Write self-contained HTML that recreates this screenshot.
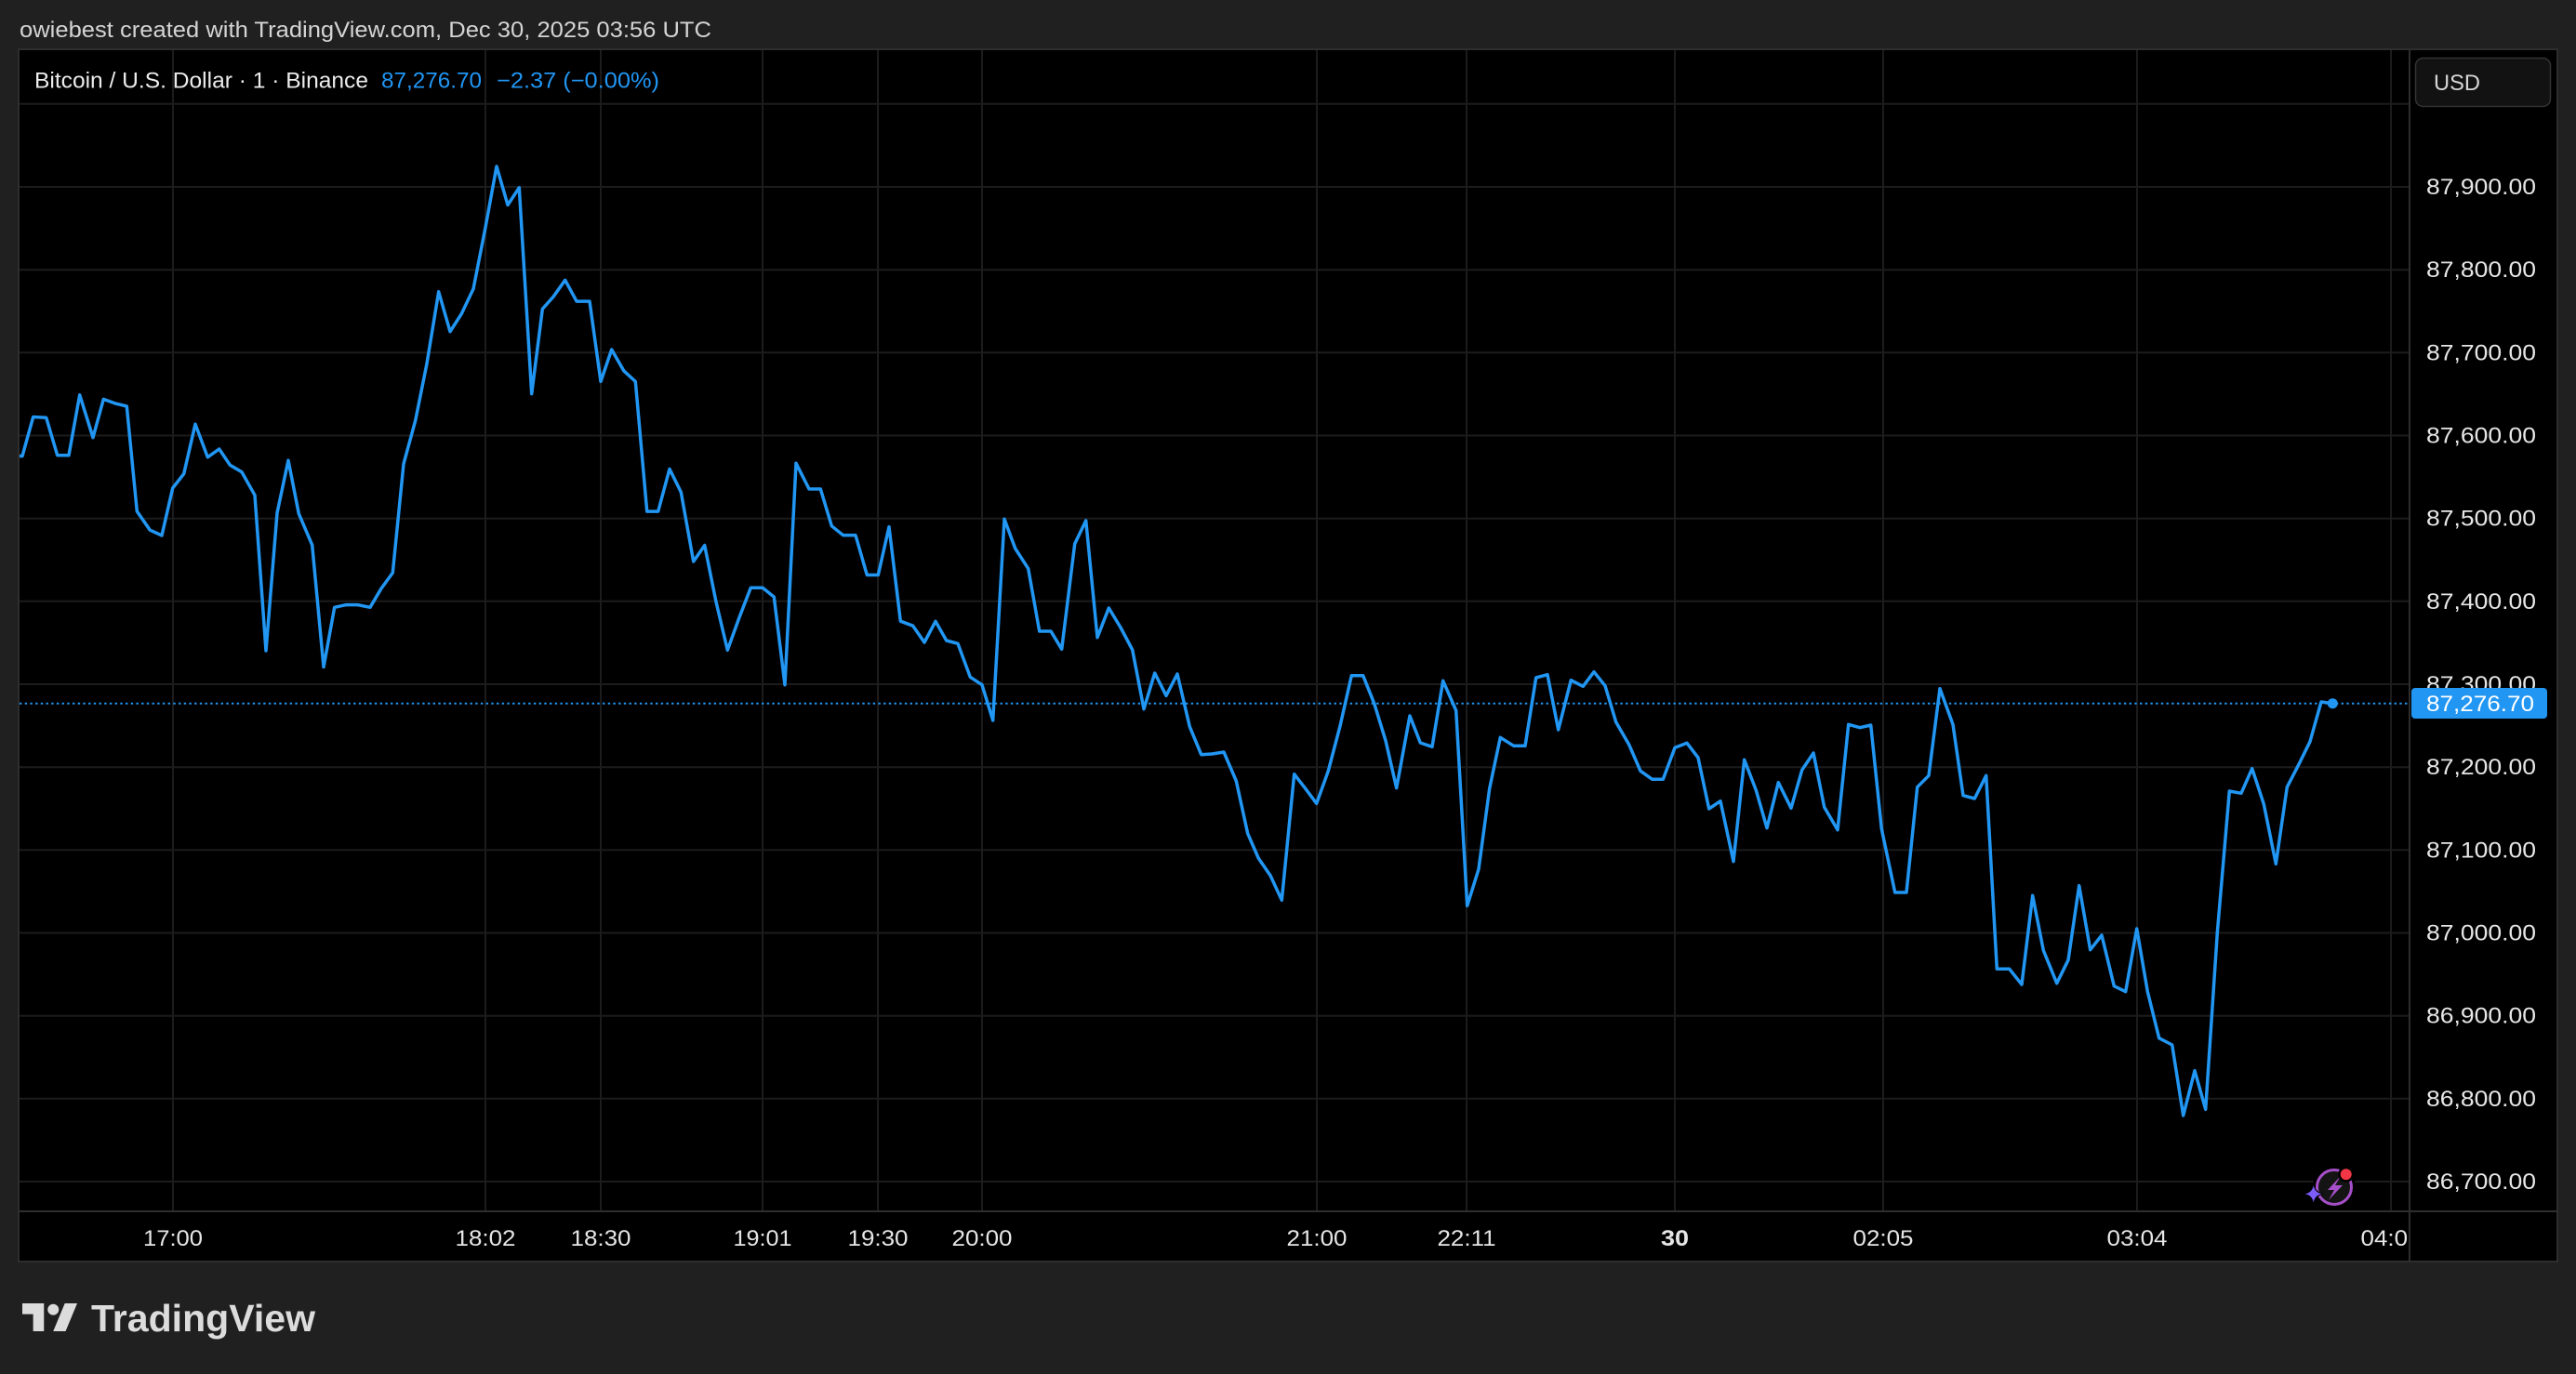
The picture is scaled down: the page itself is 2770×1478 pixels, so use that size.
<!DOCTYPE html>
<html>
<head>
<meta charset="utf-8">
<style>
  html, body { margin: 0; padding: 0; background: #202020; }
  body { width: 2770px; height: 1478px; overflow: hidden; }
  svg { display: block; }
  text { font-family: "Liberation Sans", sans-serif; }
</style>
</head>
<body>
<svg width="2770" height="1478" viewBox="0 0 2770 1478" xmlns="http://www.w3.org/2000/svg">
  <defs>
    <clipPath id="pane"><rect x="21" y="54" width="2569" height="1248"/></clipPath>
    <clipPath id="taxis"><rect x="21" y="1304" width="2569" height="52"/></clipPath>
  </defs>
  <rect x="0" y="0" width="2770" height="1478" fill="#202020"/>

  <!-- header -->
  <text x="21" y="40" font-size="24" fill="#d4d4d4" textLength="744" lengthAdjust="spacingAndGlyphs">owiebest created with TradingView.com, Dec 30, 2025 03:56 UTC</text>

  <!-- pane -->
  <rect x="20" y="53" width="2730" height="1304" fill="#000" stroke="#2e2e2e" stroke-width="2"/>

  <!-- horizontal grid -->
  <g stroke="#1c1c1c" stroke-width="2">
    <line x1="21" x2="2590" y1="111.8" y2="111.8"/>
    <line x1="21" x2="2590" y1="201" y2="201"/>
    <line x1="21" x2="2590" y1="290.2" y2="290.2"/>
    <line x1="21" x2="2590" y1="379.3" y2="379.3"/>
    <line x1="21" x2="2590" y1="468.5" y2="468.5"/>
    <line x1="21" x2="2590" y1="557.7" y2="557.7"/>
    <line x1="21" x2="2590" y1="646.8" y2="646.8"/>
    <line x1="21" x2="2590" y1="736" y2="736"/>
    <line x1="21" x2="2590" y1="825.2" y2="825.2"/>
    <line x1="21" x2="2590" y1="914.4" y2="914.4"/>
    <line x1="21" x2="2590" y1="1003.5" y2="1003.5"/>
    <line x1="21" x2="2590" y1="1092.7" y2="1092.7"/>
    <line x1="21" x2="2590" y1="1181.8" y2="1181.8"/>
    <line x1="21" x2="2590" y1="1271" y2="1271"/>
  </g>
  <!-- vertical grid -->
  <g stroke="#1c1c1c" stroke-width="2">
    <line x1="186" x2="186" y1="54" y2="1303"/>
    <line x1="522" x2="522" y1="54" y2="1303"/>
    <line x1="646" x2="646" y1="54" y2="1303"/>
    <line x1="820" x2="820" y1="54" y2="1303"/>
    <line x1="944" x2="944" y1="54" y2="1303"/>
    <line x1="1056" x2="1056" y1="54" y2="1303"/>
    <line x1="1416" x2="1416" y1="54" y2="1303"/>
    <line x1="1577" x2="1577" y1="54" y2="1303"/>
    <line x1="1801" x2="1801" y1="54" y2="1303"/>
    <line x1="2025" x2="2025" y1="54" y2="1303"/>
    <line x1="2298" x2="2298" y1="54" y2="1303"/>
    <line x1="2571" x2="2571" y1="54" y2="1303"/>
  </g>

  <!-- axis separators -->
  <line x1="2591" x2="2591" y1="54" y2="1356" stroke="#2e2e2e" stroke-width="2"/>
  <line x1="21" x2="2749" y1="1303" y2="1303" stroke="#2e2e2e" stroke-width="2"/>

  <!-- legend -->
  <text x="37" y="94.5" font-size="24" fill="#ececec" textLength="359" lengthAdjust="spacingAndGlyphs">Bitcoin / U.S. Dollar · 1 · Binance</text>
  <text x="410" y="94.5" font-size="24" fill="#2196f3" textLength="108" lengthAdjust="spacingAndGlyphs">87,276.70</text>
  <text x="534" y="94.5" font-size="24" fill="#2196f3" textLength="175" lengthAdjust="spacingAndGlyphs">−2.37 (−0.00%)</text>

  <!-- price line (dotted) -->
  <line x1="21" x2="2590" y1="756.7" y2="756.7" stroke="#2196f3" stroke-width="2" stroke-dasharray="2.4 3.3"/>

  <!-- series -->
  <g clip-path="url(#pane)">
  <polyline fill="none" stroke="#2196f3" stroke-width="3.5" stroke-linejoin="round" stroke-linecap="round" points="
21.3,490.6 24,490.6 35.7,448.5 49.7,449.3 61.7,489.8 74,489.8 85.7,424.8 100,470.7 111.3,429.4 124,434 136.3,437 147.3,550 161.3,570.2 174,576 185.7,525 197.7,509.7 210,456.2 223.3,491.8 235.7,483 247.3,500.2 260,507.8 274,532.7 286,700 298,551.8 310,495.2 321.3,552.6 335.7,586.3 348,717.5 359.7,653.3 372.3,650.6 384.7,650.6 398,653.3 410,633 422.3,616.1 434,499 446.7,452.3 459,391.1 471.7,313.8 484,356.7 496.3,337.5 509,310.7
521.7,246.2 534,179 546,220.5 558.3,201.8 571.7,423.6 583.3,332.4 595,319.2 607.7,301.3 620,324.1 634,324.1 646,410.4 657.7,376 670.7,398.8 683.3,410.4 695.7,550.1 707.7,550.1 720,504.5 732.3,529.4 745.7,604 757.7,586.6 770,647.5 782.3,699.3 795,664.1 807.3,632.2 820,632.2 832.3,642.1 844,736.7 856,498.3 870,526 882.3,526 894.3,565.8 906.7,575.8 920,575.8 932.3,618.5 944.3,618.5 956,566.7 968.3,668.2 981.7,673.2 994,691
1006,668.3 1017.7,689 1030,692.3 1043.3,728.3 1056,736.7 1067.7,775 1080,558.3 1091.7,590 1105.7,611.7 1117.7,679 1130,679 1141.7,698.3 1155.7,585 1167.7,560 1180,685.7 1192.3,654 1205,675 1217.7,699 1230,762.7 1241.7,724 1254,748.3 1266,725 1279.3,781.7 1291.7,811.7 1303.3,811 1316,809 1329.3,840 1341.7,896.7 1353.3,923.3 1366,941.7 1378.3,968.3 1391.7,832.7 1403.3,847.7 1415.7,864.3 1428.3,829.3 1441,781 1453.3,726.7 1465.7,726.7 1477.7,756.7 1490,796.7 1501.7,847.7
1516,770 1527.3,799 1540,803.3 1551.7,732.3 1565.7,764.3 1577.7,974.3 1590,935 1601.7,848.3 1613.3,793.3 1627.7,802.3 1640,802.3 1651.7,729 1664,725.7 1675.7,785 1689.3,731.7 1702.3,738.3 1714,722.7 1726,737.7 1737.7,776.7 1751.7,801 1764,829.3 1776.7,838.3 1788.3,838.3 1801,804.3 1814,799.3 1826,815 1837.7,870 1850,861.7 1864,926.7 1875.7,817.3 1888.3,850 1900,890.7 1912.3,841.7 1926,869.3 1937.7,828.3 1950,810 1961.7,868.3 1976,892.7 1987.7,779.3 2000,782.7
2011.7,780 2023.3,891.7 2037.7,960 2050,960 2061.7,846.7 2074,834.3 2086,740.7 2100,779.3 2111,855.7 2123.3,859 2135.7,834.3 2147.3,1042.3 2160.7,1042.3 2174,1059 2185.7,963.3 2197.3,1022.3 2211.7,1057.7 2224,1032.7 2235.7,952.7 2247.7,1021.7 2260,1006 2273.3,1060.7 2285.7,1066.7 2297.7,999 2309.3,1066.7 2321.7,1116.7 2335.7,1124 2347.7,1200 2360,1151.7 2371.7,1193.3 2384.3,1003.3 2397.3,851 2410,853.3 2421.7,826.7 2434.3,865 2447.3,929.3 2459.3,846.7 2471.7,822.7 2484,797.7 2496,755 2508.3,756.7"/>
  <circle cx="2508.3" cy="756.7" r="5.5" fill="#2196f3"/>
  </g>

  <!-- price axis labels -->
  <g font-size="24" fill="#e6e6e6">
    <text x="2609" y="209" textLength="118" lengthAdjust="spacingAndGlyphs">87,900.00</text>
    <text x="2609" y="298.2" textLength="118" lengthAdjust="spacingAndGlyphs">87,800.00</text>
    <text x="2609" y="387.3" textLength="118" lengthAdjust="spacingAndGlyphs">87,700.00</text>
    <text x="2609" y="476.5" textLength="118" lengthAdjust="spacingAndGlyphs">87,600.00</text>
    <text x="2609" y="565.7" textLength="118" lengthAdjust="spacingAndGlyphs">87,500.00</text>
    <text x="2609" y="654.8" textLength="118" lengthAdjust="spacingAndGlyphs">87,400.00</text>
    <text x="2609" y="744" textLength="118" lengthAdjust="spacingAndGlyphs">87,300.00</text>
    <text x="2609" y="833.2" textLength="118" lengthAdjust="spacingAndGlyphs">87,200.00</text>
    <text x="2609" y="922.4" textLength="118" lengthAdjust="spacingAndGlyphs">87,100.00</text>
    <text x="2609" y="1011.5" textLength="118" lengthAdjust="spacingAndGlyphs">87,000.00</text>
    <text x="2609" y="1100.7" textLength="118" lengthAdjust="spacingAndGlyphs">86,900.00</text>
    <text x="2609" y="1189.8" textLength="118" lengthAdjust="spacingAndGlyphs">86,800.00</text>
    <text x="2609" y="1279" textLength="118" lengthAdjust="spacingAndGlyphs">86,700.00</text>
  </g>

  <!-- current price label -->
  <rect x="2593" y="740" width="146" height="33" rx="4" fill="#2196f3"/>
  <text x="2609" y="765" font-size="24" fill="#ffffff" textLength="116" lengthAdjust="spacingAndGlyphs">87,276.70</text>

  <!-- USD button -->
  <rect x="2597.5" y="62.5" width="145" height="52" rx="8" fill="#121212" stroke="#333" stroke-width="1.5"/>
  <text x="2617" y="97" font-size="24" fill="#d6d6d6" textLength="50" lengthAdjust="spacingAndGlyphs">USD</text>

  <!-- time axis labels -->
  <g font-size="24" fill="#e6e6e6" text-anchor="middle" clip-path="url(#taxis)">
    <text x="186" y="1340" textLength="64" lengthAdjust="spacingAndGlyphs">17:00</text>
    <text x="522" y="1340" textLength="65" lengthAdjust="spacingAndGlyphs">18:02</text>
    <text x="646" y="1340" textLength="65" lengthAdjust="spacingAndGlyphs">18:30</text>
    <text x="820" y="1340" textLength="63" lengthAdjust="spacingAndGlyphs">19:01</text>
    <text x="944" y="1340" textLength="65" lengthAdjust="spacingAndGlyphs">19:30</text>
    <text x="1056" y="1340" textLength="65" lengthAdjust="spacingAndGlyphs">20:00</text>
    <text x="1416" y="1340" textLength="65" lengthAdjust="spacingAndGlyphs">21:00</text>
    <text x="1577" y="1340" textLength="63" lengthAdjust="spacingAndGlyphs">22:11</text>
    <text x="1801" y="1340" font-weight="bold" textLength="30" lengthAdjust="spacingAndGlyphs">30</text>
    <text x="2025" y="1340" textLength="65" lengthAdjust="spacingAndGlyphs">02:05</text>
    <text x="2298" y="1340" textLength="65" lengthAdjust="spacingAndGlyphs">03:04</text>
    <text x="2571" y="1340" textLength="65" lengthAdjust="spacingAndGlyphs">04:00</text>
  </g>

  <!-- assistant icon -->
  <circle cx="2510" cy="1277" r="23" fill="#000"/>
  <circle cx="2510" cy="1277" r="18.5" fill="#141414" stroke="#a64fc9" stroke-width="3"/>
  <path d="M2517,1265 L2503,1280 L2510,1280 L2504,1291 L2519,1275 L2511,1275 Z" fill="#a64fc9"/>
  <circle cx="2522.7" cy="1263.3" r="8.5" fill="#000"/>
  <circle cx="2522.7" cy="1263.3" r="6" fill="#f23645"/>
  <path d="M2487.7,1272 Q2489.2,1282.8 2500,1284.3 Q2489.2,1285.8 2487.7,1296.6 Q2486.2,1285.8 2475.4,1284.3 Q2486.2,1282.8 2487.7,1272 Z" fill="#000"/>
  <path d="M2487.7,1275 Q2489,1283 2497,1284.3 Q2489,1285.6 2487.7,1293.6 Q2486.4,1285.6 2478.4,1284.3 Q2486.4,1283 2487.7,1275 Z" fill="#7c5cff"/>

  <!-- TradingView logo -->
  <g transform="translate(24,1395.4) scale(1.662)" fill="#dcdcdc">
    <path d="M14 22H7V11H0V4h14v18z"/>
    <path d="M28 22h-8l7.5-18h8L28 22z"/>
    <circle cx="20" cy="8" r="3.6"/>
  </g>
  <text x="98" y="1432" font-size="41" font-weight="bold" fill="#dcdcdc" textLength="241" lengthAdjust="spacingAndGlyphs">TradingView</text>
</svg>
</body>
</html>
